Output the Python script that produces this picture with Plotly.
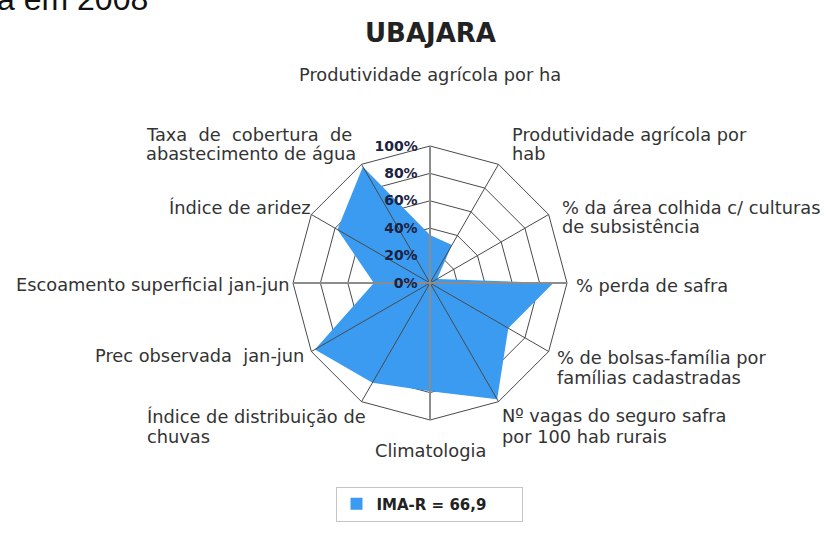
import plotly.graph_objects as go

W, H = 826, 543
OFF = 0  # body margin removed via post_script

categories = [
    "Produtividade agrícola por ha",
    "Produtividade agrícola por hab",
    "% da área colhida c/ culturas de subsistência",
    "% perda de safra",
    "% de bolsas-família por famílias cadastradas",
    "Nº vagas do seguro safra por 100 hab rurais",
    "Climatologia",
    "Índice de distribuição de chuvas",
    "Prec observada jan-jun",
    "Escoamento superficial jan-jun",
    "Índice de aridez",
    "Taxa de cobertura de abastecimento de água",
]
values = [35, 32, 6, 90, 66, 98, 79, 84, 97, 41, 78, 98]
series_name = "IMA-R = 66,9"
tick_values = [0, 20, 40, 60, 80, 100]
tick_labels = ["0%", "20%", "40%", "60%", "80%", "100%"]

FONT = "DejaVu Sans"
BLUE = "#3a9bf0"
GRID = "#4a4a4a"
LS = 17.8  # label font size

def px(x):
    return (x - OFF) / W

def py(y):
    return 1 - (y - OFF) / H

fig = go.Figure()

fig.add_trace(go.Scatterpolar(
    r=values + values[:1],
    theta=categories + categories[:1],
    mode="none",
    fill="toself",
    fillcolor=BLUE,
    name=series_name,
    subplot="polar",
    showlegend=False,
))
# legend entry (square swatch)
fig.add_trace(go.Scatterpolar(
    r=[None], theta=[None], mode="markers",
    marker=dict(symbol="square", size=12, color=BLUE),
    name="<b>" + series_name + "</b>",
    subplot="polar", showlegend=True,
))

# thick gray main axes (vertical & horizontal) on top layer
fig.add_trace(go.Scatterpolar(
    r=[100, 0, 100], theta=[categories[0], categories[0], categories[6]],
    mode="lines", line=dict(color="#8c8c8c", width=2),
    subplot="polar2", showlegend=False, hoverinfo="skip",
))
fig.add_trace(go.Scatterpolar(
    r=[100, 0, 100], theta=[categories[3], categories[3], categories[9]],
    mode="lines", line=dict(color="#8c8c8c", width=2),
    subplot="polar2", showlegend=False, hoverinfo="skip",
))
fig.add_trace(go.Scatterpolar(
    r=[0], theta=[categories[0]], mode="markers",
    marker=dict(color="#111", size=6),
    subplot="polar2", showlegend=False, hoverinfo="skip",
))

cx, cy, R = 430, 283, 137
dom = dict(x=[px(cx - R), px(cx + R)], y=[py(cy + R), py(cy - R)])

common_ang = dict(
    type="category", categoryorder="array", categoryarray=categories,
    direction="clockwise", rotation=90, showticklabels=False, ticks="",
)

NB = "\u00a0\u00a0"
fig.update_layout(
    width=W, height=H,
    margin=dict(l=0, r=0, t=0, b=0),
    paper_bgcolor="white",
    font=dict(family=FONT, color="#333"),
    polar=dict(
        domain=dom, bgcolor="white", gridshape="linear",
        angularaxis=dict(**common_ang, showgrid=False, showline=True,
                         linecolor=GRID, linewidth=1),
        radialaxis=dict(range=[0, 100], tickvals=tick_values[1:], showticklabels=False,
                        showgrid=True, gridcolor=GRID, gridwidth=1, showline=False, ticks=""),
    ),
    polar2=dict(
        domain=dom, bgcolor="rgba(0,0,0,0)", gridshape="linear",
        angularaxis=dict(**common_ang, showgrid=True, gridcolor=GRID, gridwidth=1,
                         showline=False),
        radialaxis=dict(range=[0, 100], tickvals=tick_values,
                        ticktext=[t + NB for t in tick_labels],
                        angle=90, side="counterclockwise", tickangle=90,
                        tickfont=dict(family=FONT, size=14, color="#1b2242", weight="bold"),
                        showgrid=False, showline=False, ticks=""),
    ),
    legend=dict(
        orientation="h", x=px(429), xanchor="center", y=py(504), yanchor="middle",
        bordercolor="#c4c4c4", borderwidth=1, bgcolor="white",
        font=dict(family=FONT, size=15, color="#222"),
        entrywidth=140,
    ),
)

ann = []
def add(text, x, y, xanchor="left", size=LS, color="#333", family=FONT, bold=False):
    if xanchor == "left":
        x -= 2
    elif xanchor == "right":
        x += 2
    ann.append(dict(text=("<b>%s</b>" % text) if bold else text,
                    x=px(x), y=py(y), xref="paper", yref="paper",
                    xanchor=xanchor, yanchor="middle", showarrow=False,
                    align=xanchor,
                    font=dict(family=family, size=size, color=color)))

add("a em 2008", 148, -1, xanchor="right", size=32, color="#111", family="Liberation Sans")
add("UBAJARA", 430, 33, xanchor="center", size=26, color="#222", bold=True)
add("Produtividade agrícola por ha", 430, 75, xanchor="center")
add("Produtividade agrícola por", 512, 134)
add("hab", 512, 154)
add("% da área colhida c/ culturas", 562, 207)
add("de subsistência", 562, 227)
add("% perda de safra", 576, 285)
add("% de bolsas-família por", 557, 357)
add("famílias cadastradas", 557, 377)
add("Nº vagas do seguro safra", 502, 415)
add("por 100 hab rurais", 502, 436)
add("Climatologia", 430, 450, xanchor="center")
add("Índice de distribuição de", 147, 416)
add("chuvas", 147, 436)
add("Prec observada  jan-jun", 304, 355, xanchor="right")
add("Escoamento superficial jan-jun", 290, 284, xanchor="right")
add("Índice de aridez", 311, 207, xanchor="right")
add("Taxa  de  cobertura  de", 146, 134)
add("abastecimento de água", 146, 154)
fig.update_layout(annotations=ann)

fig.write_html("out.html",
               config={"displayModeBar": False},
               post_script="document.body.style.margin='0';document.body.style.padding='0';")
